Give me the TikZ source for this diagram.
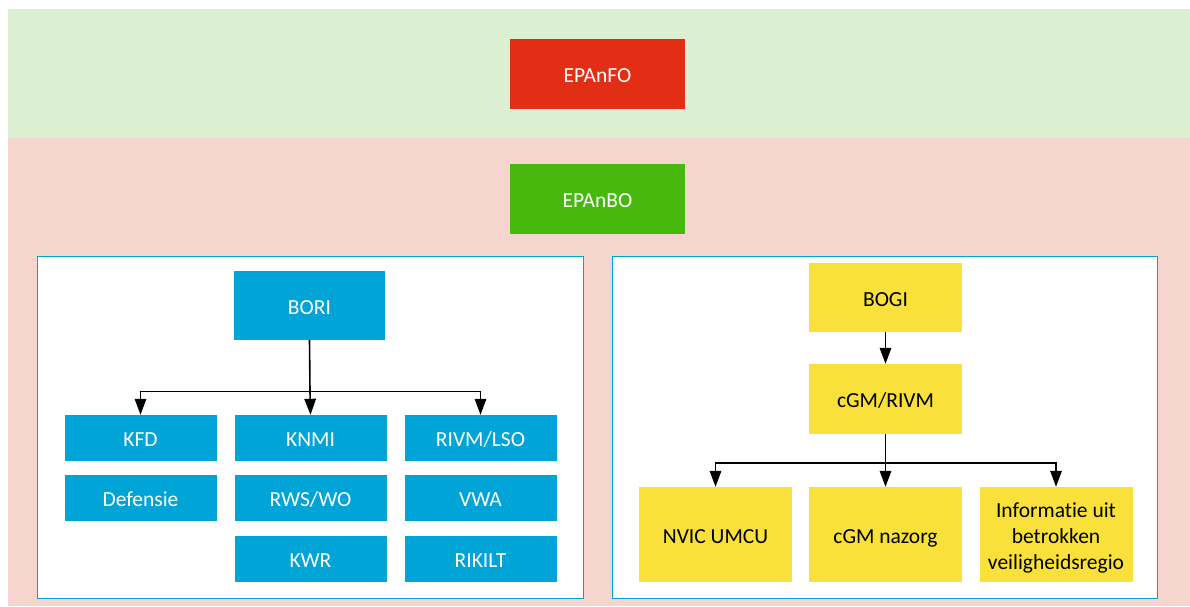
\documentclass[tikz,border=0pt]{standalone}
\usepackage{fontspec}
\setmainfont{Carlito}[RawFeature={-liga;-dlig}]
\usetikzlibrary{arrows.meta}
\definecolor{bandgreen}{HTML}{DAF0D0}
\definecolor{bandpink}{HTML}{F7D5CF}
\definecolor{boxred}{HTML}{E12E15}
\definecolor{boxgreen}{HTML}{46B80E}
\definecolor{boxblue}{HTML}{00A4D6}
\definecolor{boxyellow}{HTML}{F9E03A}
\tikzset{
  base/.style={rectangle, inner sep=2pt, align=center, font=\fontsize{21.5}{26}\selectfont},
  oneline/.style={text height=17.6pt, text depth=0pt},
  topbox/.style={base, oneline, minimum width=175pt, minimum height=70pt, text=white},
  bluebig/.style={base, oneline, fill=boxblue, text=white, minimum width=151pt, minimum height=69pt},
  bluesmall/.style={base, oneline, fill=boxblue, text=white, minimum width=152pt, minimum height=46pt},
  yellowbox/.style={base, oneline, fill=boxyellow, text=black, minimum width=153pt, minimum height=70pt},
  yellowtall/.style={base, fill=boxyellow, text=black, minimum width=153pt, minimum height=95pt},
  container/.style={draw=boxblue, line width=1.4pt, fill=white},
  arr/.style={draw=black, line width=1.6pt, -{Triangle[width=11.5pt,length=16pt]}},
  link/.style={draw=black, line width=1.6pt}
}
\begin{document}
\begin{tikzpicture}[x=1pt,y=-1pt]
\useasboundingbox (0,0) rectangle (1190,606);
% bands
\fill[bandgreen] (8,9) rectangle (1190,138);
\fill[bandpink] (8,138) rectangle (1190,606);
% containers
\draw[container] (37.5,256.5) rectangle (583.5,598.5);
\draw[container] (612.5,256.5) rectangle (1157.5,598.5);
% top boxes
\node[topbox, fill=boxred] (EPAnFO) at (597.5,73.5) {EPAnFO};
\node[topbox, fill=boxgreen] (EPAnBO) at (597.5,199) {EPAnBO};
% left group
\node[bluebig] (BORI) at (309.5,305.5) {BORI};
\node[bluesmall] (KFD) at (140.5,438) {KFD};
\node[bluesmall] (Defensie) at (140.5,498) {Defensie};
\node[bluesmall] (KNMI) at (310.5,438) {KNMI};
\node[bluesmall] (RWS) at (310.5,498) {RWS/WO};
\node[bluesmall] (KWR) at (310.5,559) {KWR};
\node[bluesmall] (RIVMLSO) at (480.5,438) {RIVM/LSO};
\node[bluesmall] (VWA) at (480.5,498) {VWA};
\node[bluesmall] (RIKILT) at (480.5,559) {RIKILT};
% right group
\node[yellowbox, minimum height=69pt] (BOGI) at (885.5,297.5) {BOGI};
\node[yellowbox] (cGMRIVM) at (885.5,399) {cGM/RIVM};
\node[yellowtall, oneline] (NVIC) at (715.5,534.5) {NVIC UMCU};
\node[yellowtall, oneline] (nazorg) at (885.5,534.5) {cGM nazorg};
\node[yellowtall] (info) at (1056,534.5) {\rule{0pt}{21pt}Informatie uit\\betrokken\\veiligheidsregio};
% connectors left
\coordinate (jl) at (310,391.5);
\draw[link] (BORI.south) -- (jl);
\draw[arr] (jl) -| (KFD.north);
\draw[arr] (jl) -- (KNMI.north);
\draw[arr] (jl) -| (RIVMLSO.north);
% connectors right
\draw[arr] (BOGI.south) -- (cGMRIVM.north);
\coordinate (jr) at (885.5,463);
\draw[link] (cGMRIVM.south) -- (jr);
\draw[arr] (jr) -| (NVIC.north);
\draw[arr] (jr) -- (nazorg.north);
\draw[arr] (jr) -| (info.north);
\end{tikzpicture}
\end{document}
